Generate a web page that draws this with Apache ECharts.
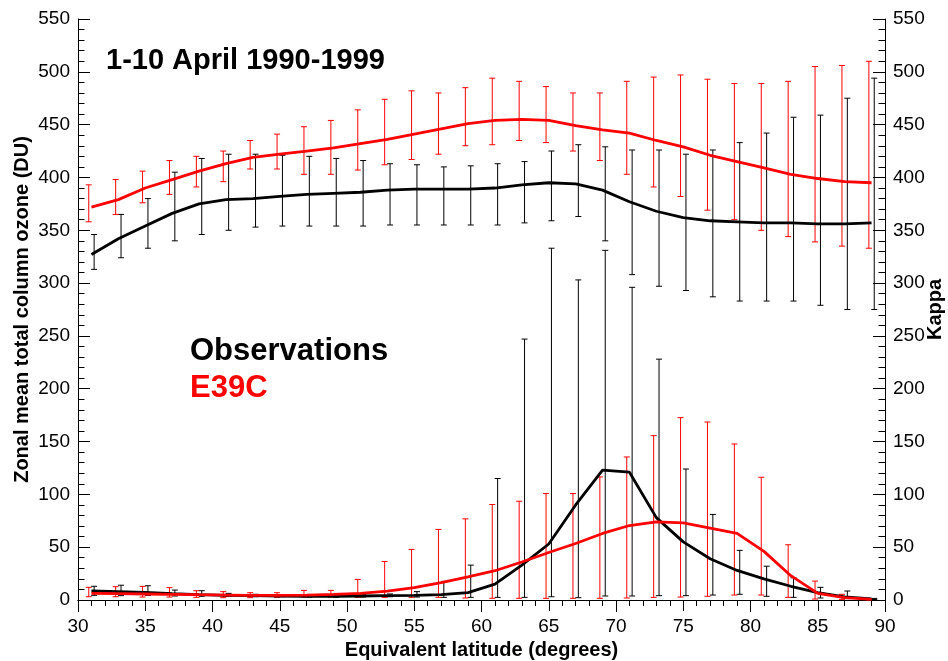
<!DOCTYPE html>
<html>
<head>
<meta charset="utf-8">
<script src="https://cdn.jsdelivr.net/npm/echarts@6/dist/echarts.min.js"></script>
<style>
html,body{margin:0;padding:0;background:#fff;overflow:hidden;}
#chart{width:948px;height:661px;}
</style>
</head>
<body>
<div id="chart"></div>
<script>
// ---------- data ----------
const latitudes = [31,33,35,37,39,41,43,45,47,49,51,53,55,57,59,61,63,65,67,69,71,73,75,77,79,81,83,85,87,89];

const obsOzone     = [327,342,354,366,375,379,380,382,384,385,386,388,389,389,389,390,393,395,394,388,377,368,362,359,358,357,357,356,356,357];
const obsOzoneLow  = [313,324,333,340,346,350,353,354,354,354,354,355,355,355,355,355,357,359,363,340,308,297,293,287,283,283,283,279,275,275];
const obsOzoneHigh = [346,365,380,405,418,422,422,421,420,418,416,413,412,410,411,413,415,425,431,429,426,426,422,426,433,442,457,459,475,494];

const e39Ozone     = [372,379,390,398,406,413,419,422,425,428,432,436,441,446,451,454,455,454,449,445,442,435,429,421,415,409,403,399,396,395];
const e39OzoneLow  = [358,365,376,384,391,396,408,408,403,403,407,412,417,422,430,431,435,433,425,416,403,391,382,369,360,350,344,339,335,333];
const e39OzoneHigh = [393,398,406,416,420,425,435,441,448,454,464,474,482,480,485,494,491,486,480,480,491,495,497,493,489,489,491,505,506,510];

const obsKappa     = [8.5,7.9,7.2,6,5,4.4,4.1,3.8,3.5,3.5,3.8,4.1,4.4,5,7,15,33,53,90,123,121,78,55,39,28,20,13,7,3,1];
const obsKappaLow  = [4.4,4.1,4.4,3.8,3.5,3.5,3.1,3.1,2.8,2.5,2.8,3.1,2.8,2.5,2.5,2.5,2.5,3.1,2.2,3.8,3.8,4.1,4.1,4.7,5.4,3.5,2.5,1.9,1.3,0.5];
const obsKappaHigh = [13,14,13.5,9.4,8.8,6.3,5.4,4.7,5,5,5.4,5.7,7.9,17.6,33,115,247,333,303,331,296,228,124,81,47,32,21,12,8.5,1.5];

const e39Kappa     = [6.3,6,5.7,5.4,5,4.7,4.4,4.4,4.7,5.4,6.3,8.5,11.7,16.4,22,27.7,36,45,53.5,63,70.5,74,73,68,63,46,23,6.3,2.2,0.6];
const e39KappaLow  = [3.1,3.1,2.8,2.8,2.5,2.2,2.2,2.5,2.8,2.8,2.5,2.5,2.5,2.5,1.9,1.6,1.6,1.6,1.6,1.6,1.9,2.5,2.8,3.5,4.7,4.7,2.5,0.9,0.6,0.3];
const e39KappaHigh = [12,12.6,12.9,11.7,8.8,7.9,6.9,6.9,9.1,9.1,19.5,36.5,47.9,66.8,76.8,90.4,93.5,100.8,100.8,116.5,135.4,155.6,172.6,168.5,147.7,116.2,52.3,17.9,5.4,1];

const titleText = '1-10 April 1990-1999';
const seriesNames = ['Observations', 'E39C'];
const xTitle = 'Equivalent latitude (degrees)';
const yLeftTitle = 'Zonal mean total column ozone (DU)';
const yRightTitle = 'Kappa';

// ---------- helpers ----------
const FONT = "'Liberation Sans', Arial, Helvetica, sans-serif";
const BLACK = '#000000';
const RED = '#ff0000';

function pairs(xs, ys) { return xs.map((x, i) => [x, ys[i]]); }
function triples(xs, lo, hi) { return xs.map((x, i) => [x, lo[i], hi[i]]); }

function errRender(color, off) {
  return function (params, api) {
    const x = api.value(0) + off;
    const lo = api.coord([x, api.value(1)]);
    const hi = api.coord([x, api.value(2)]);
    const w = 3;
    const style = { stroke: color, lineWidth: 1, fill: null };
    return {
      type: 'group',
      children: [
        { type: 'line', shape: { x1: lo[0], y1: lo[1], x2: hi[0], y2: hi[1] }, style: style },
        { type: 'line', shape: { x1: lo[0] - w, y1: lo[1], x2: lo[0] + w, y2: lo[1] }, style: style },
        { type: 'line', shape: { x1: hi[0] - w, y1: hi[1], x2: hi[0] + w, y2: hi[1] }, style: style }
      ]
    };
  };
}

function errSeries(name, data, color, off, yIdx) {
  return {
    name: name, type: 'custom', xAxisIndex: 0, yAxisIndex: yIdx,
    renderItem: errRender(color, off),
    encode: { x: 0, y: [1, 2] },
    data: data, silent: true, z: 2
  };
}

function lineSeries(name, data, color, yIdx, z) {
  return {
    name: name, type: 'line', xAxisIndex: 0, yAxisIndex: yIdx,
    data: data, symbol: 'none', smooth: false,
    lineStyle: { color: color, width: 2.8 },
    silent: true, z: z
  };
}

const axisLineStyle = { show: true, lineStyle: { color: BLACK, width: 1 } };

const yAxisCommon = {
  type: 'value', min: 0, max: 550, interval: 50,
  axisLine: axisLineStyle,
  axisTick: { show: true, inside: true, length: 12, lineStyle: { color: BLACK } },
  minorTick: { show: true, splitNumber: 5, length: 6.5, lineStyle: { color: BLACK } },
  splitLine: { show: false },
  axisLabel: { fontSize: 19, fontFamily: FONT, color: BLACK, margin: 8 },
  nameLocation: 'middle', nameRotate: 90, nameMoveOverlap: false,
  nameTextStyle: { fontSize: 20, fontWeight: 'bold', fontFamily: FONT, color: BLACK }
};

const chart = echarts.init(document.getElementById('chart'), null, { renderer: 'canvas' });

chart.setOption({
  animation: false,
  backgroundColor: '#ffffff',
  grid: { left: 78, right: 63, top: 19, bottom: 61, containLabel: false, outerBoundsMode: 'none' },
  xAxis: [
    {
      type: 'value', min: 30, max: 90, interval: 5, position: 'bottom',
      axisLine: axisLineStyle,
      axisTick: { show: true, inside: false, length: 11, lineStyle: { color: BLACK } },
      minorTick: { show: true, splitNumber: 5, length: 6, lineStyle: { color: BLACK } },
      splitLine: { show: false },
      axisLabel: { fontSize: 19, fontFamily: FONT, color: BLACK, margin: 17 },
      name: xTitle, nameLocation: 'middle', nameGap: 38,
      nameTextStyle: { fontSize: 20, fontWeight: 'bold', fontFamily: FONT, color: BLACK }
    },
    {
      type: 'value', min: 30, max: 90, interval: 10, position: 'top',
      axisLine: axisLineStyle,
      axisTick: { show: true, inside: true, length: 12, lineStyle: { color: BLACK } },
      axisLabel: { show: false },
      splitLine: { show: false }
    }
  ],
  yAxis: [
    Object.assign({}, yAxisCommon, { position: 'left', name: yLeftTitle, nameGap: 46 }),
    Object.assign({}, yAxisCommon, { position: 'right', name: yRightTitle, nameGap: 40 })
  ],
  graphic: [
    {
      type: 'text', left: 106, top: 46,
      style: { text: titleText, font: "bold 29px " + FONT, fill: BLACK }
    },
    {
      type: 'text', left: 190, top: 336,
      style: { text: seriesNames[0], font: "bold 31px " + FONT, fill: BLACK }
    },
    {
      type: 'text', left: 190, top: 373,
      style: { text: seriesNames[1], font: "bold 31px " + FONT, fill: RED }
    }
  ],
  series: [
    errSeries(seriesNames[0] + ' ozone error', triples(latitudes, obsOzoneLow, obsOzoneHigh), BLACK, 0.2, 0),
    errSeries(seriesNames[1] + ' ozone error', triples(latitudes, e39OzoneLow, e39OzoneHigh), RED, -0.2, 0),
    errSeries(seriesNames[0] + ' kappa error', triples(latitudes, obsKappaLow, obsKappaHigh), BLACK, 0.2, 1),
    errSeries(seriesNames[1] + ' kappa error', triples(latitudes, e39KappaLow, e39KappaHigh), RED, -0.2, 1),
    lineSeries(seriesNames[0] + ' ozone', pairs(latitudes, obsOzone), BLACK, 0, 3),
    lineSeries(seriesNames[1] + ' ozone', pairs(latitudes, e39Ozone), RED, 0, 4),
    lineSeries(seriesNames[0] + ' kappa', pairs(latitudes, obsKappa), BLACK, 1, 3),
    lineSeries(seriesNames[1] + ' kappa', pairs(latitudes, e39Kappa), RED, 1, 4)
  ]
});
</script>
</body>
</html>
